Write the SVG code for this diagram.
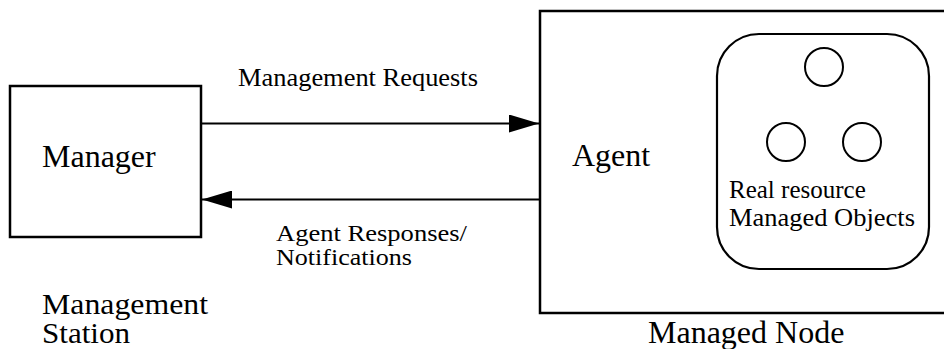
<svg xmlns="http://www.w3.org/2000/svg" width="944" height="349" viewBox="0 0 944 349">
<style>
.box{fill:none;stroke:#000;stroke-width:2.5}
.rbox{fill:none;stroke:#000;stroke-width:2.2}
.obj{fill:none;stroke:#000;stroke-width:2}
.conn{fill:none;stroke:#000;stroke-width:2}
.big{font-family:"Liberation Serif","Times New Roman",serif;font-size:32px;fill:#000}
.small{font-family:"Liberation Serif","Times New Roman",serif;font-size:26px;fill:#000}
.tight{font-family:"Liberation Serif","Times New Roman",serif;font-size:25px;fill:#000}
.label2{font-family:"Liberation Serif","Times New Roman",serif;font-size:23px;fill:#000}
.station{font-family:"Liberation Serif","Times New Roman",serif;font-size:29px;fill:#000}
</style>
<defs>
<marker id="ah" viewBox="0 0 30 18" refX="30" refY="9" markerWidth="30" markerHeight="18" markerUnits="userSpaceOnUse" orient="auto">
<path d="M0,0 L30,9 L0,18 Z" fill="#000"/>
</marker>
</defs>
<rect width="944" height="349" fill="#fff"/>
<g id="manager">
<rect class="box" x="10" y="86" width="191" height="151"/>
<text class="big" x="42" y="167">Manager</text>
</g>
<g id="management-station">
<text class="station" x="42" y="314" textLength="166" lengthAdjust="spacingAndGlyphs">Management</text>
<text class="station" x="42" y="343" textLength="88" lengthAdjust="spacingAndGlyphs">Station</text>
</g>
<g id="managed-node">
<rect class="box" x="540" y="11" width="420" height="302"/>
<text class="big" x="572" y="166">Agent</text>
<text class="big" x="648" y="343">Managed Node</text>
</g>
<g id="real-resource">
<rect class="rbox" x="717" y="34" width="212" height="235" rx="42" ry="42"/>
<circle class="obj" cx="824" cy="67" r="19"/>
<circle class="obj" cx="786" cy="142" r="19"/>
<circle class="obj" cx="862" cy="142" r="19"/>
<text class="tight" x="729" y="198">Real resource</text>
<text class="tight" x="729" y="226" textLength="186" lengthAdjust="spacingAndGlyphs">Managed Objects</text>
</g>
<g id="connectors">
<line class="conn" x1="201" y1="123.5" x2="539" y2="123.5" marker-end="url(#ah)"/>
<line class="conn" x1="540" y1="199.5" x2="202" y2="199.5" marker-end="url(#ah)"/>
<text class="small" x="238" y="86" textLength="240" lengthAdjust="spacingAndGlyphs">Management Requests</text>
<text class="label2" x="276" y="241" textLength="191" lengthAdjust="spacingAndGlyphs">Agent Responses/</text>
<text class="label2" x="276" y="265" textLength="136" lengthAdjust="spacingAndGlyphs">Notifications</text>
</g>
</svg>
